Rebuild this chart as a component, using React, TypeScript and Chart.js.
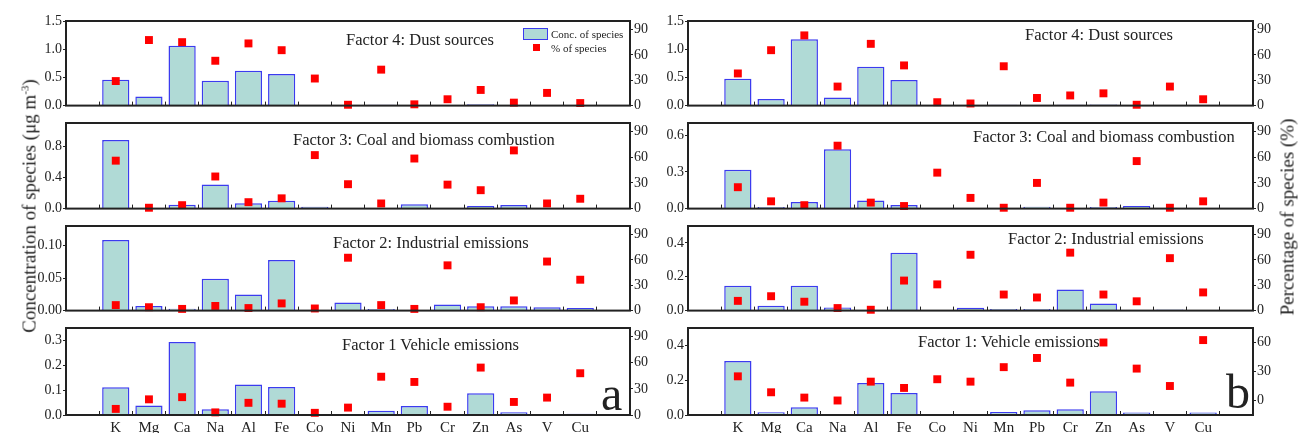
import React, { useEffect, useRef } from 'react';
import { Chart, registerables } from 'chart.js';

Chart.register(...registerables);

const SERIF = "'Liberation Serif', 'Times New Roman', serif";
const INK = '#222222';
const BAR_FILL = '#b0dad6';
const BAR_EDGE = '#3b3bef';
const PT_RED = '#ff0000';

const CATEGORIES = ['K', 'Mg', 'Ca', 'Na', 'Al', 'Fe', 'Co', 'Ni', 'Mn', 'Pb', 'Cr', 'Zn', 'As', 'V', 'Cu'];

// Panel a
const A_F4_CONC = [0.46, 0.16, 1.06, 0.44, 0.62, 0.56, 0.01, 0.003, 0.015, 0.002, 0.002, 0.025, 0.002, 0.002, 0.002];
const A_F4_PCT = [29, 77.5, 75, 53, 73.5, 65.5, 32, 1, 42.5, 1.5, 7.5, 18.5, 3.5, 15, 3];
const A_F3_CONC = [0.88, 0.003, 0.05, 0.31, 0.07, 0.1, 0.025, 0.005, 0.003, 0.055, 0.002, 0.033, 0.045, 0.002, 0.002];
const A_F3_PCT = [56, 1, 4, 37.5, 7.5, 12, 62.5, 28.5, 6, 58.5, 28, 21.5, 68, 6, 11.5];
const A_F2_CONC = [0.1085, 0.007, 0.003, 0.049, 0.0247, 0.0777, 0.001, 0.0126, 0.0025, 0.0005, 0.0095, 0.0065, 0.0065, 0.005, 0.004];
const A_F2_PCT = [6.5, 4, 2, 5.5, 3, 8.5, 2.5, 62.5, 6.5, 2, 53.5, 4, 12, 58, 36.5];
const A_F1_CONC = [0.112, 0.038, 0.294, 0.023, 0.123, 0.113, 0.001, 0.002, 0.017, 0.036, 0.002, 0.088, 0.011, 0.001, 0.005];
const A_F1_PCT = [7, 18, 20.5, 3, 14, 13, 2.5, 8.5, 44, 38, 9.5, 54.5, 15, 20, 48];

// Panel b
const B_F4_CONC = [0.475, 0.115, 1.176, 0.144, 0.69, 0.452, 0.003, 0.003, 0.015, 0.002, 0.015, 0.02, 0.002, 0.002, 0.002];
const B_F4_PCT = [38, 65.5, 83, 22.5, 73, 47.5, 4, 2.5, 46.5, 9, 12, 14.5, 1, 22.5, 7.5];
const B_F3_CONC = [0.317, 0.014, 0.054, 0.486, 0.067, 0.03, 0.005, 0.002, 0.001, 0.016, 0.003, 0.013, 0.022, 0.001, 0.001];
const B_F3_PCT = [25, 8.5, 4, 73.5, 7, 3, 42, 12.5, 1, 30, 1, 7, 55.5, 1, 8.5];
const B_F2_CONC = [0.147, 0.029, 0.147, 0.019, 0.004, 0.342, 0.004, 0.017, 0.009, 0.009, 0.125, 0.042, 0.004, 0.006, 0.004];
const B_F2_PCT = [11.5, 17, 10.5, 3, 1, 35.5, 31, 66, 19, 15.5, 68.5, 19, 11, 62, 21.5];
const B_F1_CONC = [0.31, 0.016, 0.044, 0, 0.184, 0.127, 0, 0.003, 0.017, 0.027, 0.033, 0.137, 0.015, 0, 0.015];
const B_F1_PCT = [25, 8.5, 3, 0, 19.5, 13, 22, 19.5, 34.5, 44, 18.5, 60, 33, 15, 62.5];

// Tick labels
const PCT_TICKS = [0, 30, 60, 90];
const PCT_TICKS_B1 = [0, 30, 60];
const TICKS_15 = [0, 0.5, 1.0, 1.5];
const TICKS_08 = [0, 0.4, 0.8];
const TICKS_010 = [0, 0.05, 0.1];
const TICKS_03 = [0, 0.1, 0.2, 0.3];
const TICKS_06 = [0, 0.3, 0.6];
const TICKS_04 = [0, 0.2, 0.4];

const TITLES_A = ['Factor 4: Dust sources', 'Factor 3: Coal and biomass combustion', 'Factor 2: Industrial emissions', 'Factor 1 Vehicle emissions'];
const TITLES_B = ['Factor 4: Dust sources', 'Factor 3: Coal and biomass combustion', 'Factor 2: Industrial emissions', 'Factor 1: Vehicle emissions'];

const framePlugin = {
  id: 'frame',
  afterDatasetsDraw(chart: any) {
    const { ctx, chartArea: a } = chart;
    ctx.save();
    ctx.strokeStyle = INK;
    ctx.lineWidth = 2;
    ctx.strokeRect(a.left, a.top, a.right - a.left, a.bottom - a.top);
    ctx.restore();
  },
};

type PanelProps = {
  left: number; top: number; plotW: number; plotH: number; bottomAxis: boolean;
  conc: number[]; pct: number[]; yMax: number; yTicks: number[]; yDec: number;
  y2Min: number; y2Max: number; y2Ticks: number[];
};

const PAD_TOP = 10;
const LW = 50;
const RW = 34;

function Panel(p: PanelProps) {
  const ref = useRef<HTMLCanvasElement | null>(null);
  const xH = p.bottomAxis ? 18 : 8;
  const w = LW + p.plotW + RW;
  const h = PAD_TOP + p.plotH + xH;

  useEffect(() => {
    const tickFont = { family: SERIF, size: 14 };
    const chart = new Chart(ref.current as HTMLCanvasElement, {
      type: 'bar',
      data: {
        datasets: [
          {
            type: 'line',
            label: '% of species',
            data: p.pct.map((v, i) => ({ x: i, y: v })),
            yAxisID: 'y2',
            showLine: false,
            pointStyle: 'rect',
            pointRadius: 5.6,
            pointBackgroundColor: PT_RED,
            pointBorderWidth: 0,
            borderColor: 'rgba(0,0,0,0)',
            clip: false,
            order: 0,
          } as any,
          {
            type: 'bar',
            label: 'Conc. of species',
            data: p.conc.map((v, i) => ({ x: i, y: v })),
            yAxisID: 'y',
            backgroundColor: BAR_FILL,
            borderColor: BAR_EDGE,
            borderWidth: 1.5,
            barPercentage: 0.82,
            categoryPercentage: 1,
            order: 1,
          } as any,
        ],
      },
      options: {
        responsive: false,
        animation: false,
        devicePixelRatio: 1,
        events: [],
        layout: { padding: { top: PAD_TOP, left: 0, right: 0, bottom: 0 }, autoPadding: false },
        plugins: { legend: { display: false }, tooltip: { enabled: false }, title: { display: false } },
        scales: {
          x: {
            type: 'linear',
            position: 'bottom',
            min: -1,
            max: 15,
            afterFit: (s: any) => { s.height = xH; },
            afterBuildTicks: (s: any) => {
              s.ticks = [-1, ...CATEGORIES.map((_, i) => i), 15].map((v) => ({ value: v }));
            },
            border: { display: false },
            grid: { drawOnChartArea: false, drawTicks: true, tickLength: -4, color: INK, lineWidth: 1 },
            ticks: {
              display: p.bottomAxis,
              autoSkip: false,
              maxRotation: 0,
              padding: 8,
              color: INK,
              font: { family: SERIF, size: 15 },
              callback: (v: any) => CATEGORIES[v] ?? '',
            },
          },
          y: {
            type: 'linear',
            position: 'left',
            min: 0,
            max: p.yMax,
            afterFit: (s: any) => { s.width = LW; },
            afterBuildTicks: (s: any) => { s.ticks = p.yTicks.map((v) => ({ value: v })); },
            border: { display: false },
            grid: { drawOnChartArea: false, drawTicks: true, tickLength: 3, color: INK, lineWidth: 1 },
            ticks: {
              padding: 1,
              color: INK,
              font: tickFont,
              callback: (v: any) => Number(v).toFixed(p.yDec),
            },
          },
          y2: {
            type: 'linear',
            position: 'right',
            min: p.y2Min,
            max: p.y2Max,
            afterFit: (s: any) => { s.width = RW; },
            afterBuildTicks: (s: any) => { s.ticks = p.y2Ticks.map((v) => ({ value: v })); },
            border: { display: false },
            grid: { drawOnChartArea: false, drawTicks: true, tickLength: 3, color: INK, lineWidth: 1 },
            ticks: {
              padding: 1,
              color: INK,
              font: tickFont,
              callback: (v: any) => String(Math.round(Number(v))),
            },
          },
        },
      } as any,
      plugins: [framePlugin],
    });
    return () => chart.destroy();
  }, []);

  return (
    <canvas
      ref={ref}
      width={w}
      height={h}
      style={{ position: 'absolute', left: p.left - LW, top: p.top - PAD_TOP, width: w, height: h }}
    />
  );
}

const ROWS = [
  { top: 21, h: 86 },
  { top: 123, h: 87 },
  { top: 226, h: 86 },
  { top: 328, h: 87 },
];

const PANELS_A = [
  { conc: A_F4_CONC, pct: A_F4_PCT, yMax: 1.5, yTicks: TICKS_15, yDec: 1, y2Min: 0, y2Max: 100, y2Ticks: PCT_TICKS },
  { conc: A_F3_CONC, pct: A_F3_PCT, yMax: 1.1, yTicks: TICKS_08, yDec: 1, y2Min: 0, y2Max: 100, y2Ticks: PCT_TICKS },
  { conc: A_F2_CONC, pct: A_F2_PCT, yMax: 0.13, yTicks: TICKS_010, yDec: 2, y2Min: 0, y2Max: 100, y2Ticks: PCT_TICKS },
  { conc: A_F1_CONC, pct: A_F1_PCT, yMax: 0.35, yTicks: TICKS_03, yDec: 1, y2Min: 0, y2Max: 100, y2Ticks: PCT_TICKS },
];

const PANELS_B = [
  { conc: B_F4_CONC, pct: B_F4_PCT, yMax: 1.5, yTicks: TICKS_15, yDec: 1, y2Min: 0, y2Max: 100, y2Ticks: PCT_TICKS },
  { conc: B_F3_CONC, pct: B_F3_PCT, yMax: 0.7, yTicks: TICKS_06, yDec: 1, y2Min: 0, y2Max: 100, y2Ticks: PCT_TICKS },
  { conc: B_F2_CONC, pct: B_F2_PCT, yMax: 0.5, yTicks: TICKS_04, yDec: 1, y2Min: 0, y2Max: 100, y2Ticks: PCT_TICKS },
  { conc: B_F1_CONC, pct: B_F1_PCT, yMax: 0.5, yTicks: TICKS_04, yDec: 1, y2Min: -15, y2Max: 75, y2Ticks: PCT_TICKS_B1 },
];

const TITLE_POS_A = [[346, 40], [293, 140], [333, 243], [342, 345]];
const TITLE_POS_B = [[1025, 35], [973, 137], [1008, 239], [918, 342]];

const textStyle = (x: number, y: number, size: number): React.CSSProperties => ({
  position: 'absolute',
  left: x,
  top: y,
  transform: 'translateY(-50%)',
  fontFamily: SERIF,
  fontSize: size,
  lineHeight: 1,
  whiteSpace: 'nowrap',
  color: INK,
});

export default function App() {
  const COL_A = { left: 66, w: 564 };
  const COL_B = { left: 688, w: 565 };
  return (
    <div style={{ position: 'absolute', left: 0, top: 0, width: 1299, height: 433, overflow: 'hidden', background: '#fff' }}>
      {PANELS_A.map((p, i) => (
        <Panel key={'a' + i} left={COL_A.left} top={ROWS[i].top} plotW={COL_A.w} plotH={ROWS[i].h} bottomAxis={i === 3} {...p} />
      ))}
      {PANELS_B.map((p, i) => (
        <Panel key={'b' + i} left={COL_B.left} top={ROWS[i].top} plotW={COL_B.w} plotH={ROWS[i].h} bottomAxis={i === 3} {...p} />
      ))}
      {TITLES_A.map((t, i) => (
        <div key={'ta' + i} style={textStyle(TITLE_POS_A[i][0], TITLE_POS_A[i][1], 16.5)}>{t}</div>
      ))}
      {TITLES_B.map((t, i) => (
        <div key={'tb' + i} style={textStyle(TITLE_POS_B[i][0], TITLE_POS_B[i][1], 16.5)}>{t}</div>
      ))}
      {/* legend */}
      <div style={{ position: 'absolute', left: 523, top: 28, width: 25, height: 12, boxSizing: 'border-box', background: BAR_FILL, border: `1.5px solid ${BAR_EDGE}` }} />
      <div style={textStyle(551, 34, 11)}>Conc. of species</div>
      <div style={{ position: 'absolute', left: 532.5, top: 44, width: 7, height: 7, background: PT_RED }} />
      <div style={textStyle(551, 47.5, 11)}>% of species</div>
      {/* panel letters */}
      <div style={{ position: 'absolute', left: 601, top: 370, fontFamily: SERIF, fontSize: 48, lineHeight: 1, color: INK }}>a</div>
      <div style={{ position: 'absolute', left: 1226, top: 368, fontFamily: SERIF, fontSize: 48, lineHeight: 1, color: INK }}>b</div>
      {/* axis titles */}
      <div style={{ position: 'absolute', left: 29, top: 206, transform: 'translate(-50%, -50%) rotate(-90deg)', fontFamily: SERIF, fontSize: 19, lineHeight: 1, whiteSpace: 'nowrap', color: INK }}>
        Concentration of species (μg m<sup style={{ fontSize: 11, verticalAlign: 'super', lineHeight: 0 }}>-3</sup>)
      </div>
      <div style={{ position: 'absolute', left: 1287, top: 217, transform: 'translate(-50%, -50%) rotate(-90deg)', fontFamily: SERIF, fontSize: 19, lineHeight: 1, whiteSpace: 'nowrap', color: INK }}>
        Percentage of species (%)
      </div>
    </div>
  );
}
